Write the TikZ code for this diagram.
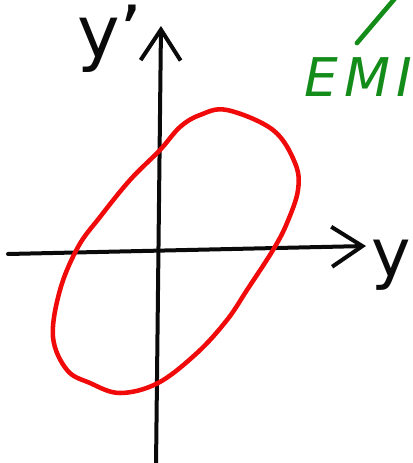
\documentclass[tikz,border=0pt]{standalone}
\usepackage{fontspec}
\setsansfont{DejaVu Sans}
\usepackage{xcolor}
\usepackage{tikz}
\usetikzlibrary{arrows.meta}
\definecolor{ink}{RGB}{10,10,10}
\definecolor{loop}{RGB}{240,10,10}
\definecolor{note}{RGB}{20,140,25}

\begin{document}
\begin{tikzpicture}[
  x=0.75pt, y=-0.75pt,
  axis/.style={draw=ink, line width=3pt, line cap=round, -{Straight Barb[length=23pt, width=30pt, line width=3pt]}},
  lbl/.style={font=\sffamily\fontsize{54}{54}\selectfont, text=ink, inner sep=0pt, anchor=base west},
  orbit/.style={draw=loop, line width=3.4pt},
  remark/.style={font=\sffamily\itshape\fontsize{40}{40}\selectfont\addfontfeatures{LetterSpace=12}, text=note, inner sep=0pt, anchor=base west},
]
\useasboundingbox (0,0) rectangle (413,463);
\clip (0,0) rectangle (413,463);
% axes
\coordinate (xs) at (8,254);
\coordinate (xe) at (366,246);
\coordinate (ys) at (156,466);
\coordinate (ye) at (161,26);
\draw[axis] (xs) -- (xe);
\draw[axis] (ys) -- (ye);
\node[lbl] (ylab) at (77,58) {y'};
\node[lbl, font=\sffamily\fontsize{50}{50}\selectfont] (xlab) at (371,276) {y};
% phase-space ellipse
\draw[orbit] plot[smooth cycle, tension=0.6] coordinates {
  (227,110) (273,130) (295,163) (298,190) (287,223) (273,250) (247,290)
  (227,320) (197,353) (158,383) (120,393) (90,383) (67,370) (53,337)
  (60,290) (78,247) (100,217) (130,180) (160,150) (180,127) (200,115)};
% green note, cut at the edge
\draw[note, line width=3.5pt, line cap=round] (357,43) -- (397,-4);
\node[remark] (emi) at (304,97) {EMI};
\end{tikzpicture}
\end{document}
